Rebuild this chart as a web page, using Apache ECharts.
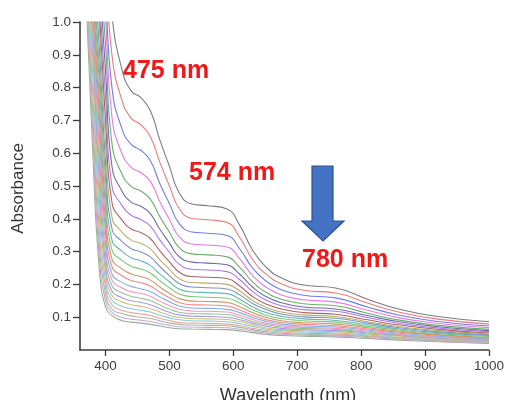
<!DOCTYPE html>
<html>
<head>
<meta charset="utf-8">
<script src="https://cdn.jsdelivr.net/npm/echarts@6/dist/echarts.min.js"></script>
<style>
  html, body { margin: 0; padding: 0; background: #fff; }
  #chart { width: 507px; height: 400px; }
</style>
</head>
<body>
<div id="chart"></div>
<script>
// Wavelength grid (nm) shared by every absorbance scan
const wavelengths = [370, 380, 390, 400, 410, 425, 440, 455, 470, 485, 500, 515, 535, 560, 590, 610, 630, 650, 675, 710, 760, 810, 860, 920, 1000];

// Successive absorbance scans, from first (highest) to last (lowest)
const scan01 = [2.6, 2.1, 1.65, 1.28, 1.02, .86, .79, .77, .73, .64, .56, .48, .445, .44, .43, .38, .305, .255, .22, .198, .189, .155, .124, .102, .086];
const scan02 = [2.4, 1.9, 1.5, 1.18, .90, .765, .707, .687, .651, .572, .500, .432, .401, .397, .389, .343, .276, .233, .202, .182, .174, .143, .115, .094, .079];
const scan03 = [2.2, 1.75, 1.38, 1.08, .80, .678, .627, .609, .578, .507, .446, .386, .360, .356, .349, .308, .250, .212, .184, .167, .159, .131, .106, .087, .073];
const scan04 = [2.0, 1.6, 1.27, 1.01, .71, .602, .557, .541, .514, .452, .398, .346, .323, .32, .314, .278, .227, .193, .168, .153, .146, .121, .098, .081, .068];
const scan05 = [1.9, 1.5, 1.2, .93, .63, .539, .499, .485, .460, .406, .359, .313, .293, .29, .284, .252, .208, .177, .155, .141, .135, .112, .091, .075, .063];
const scan06 = [1.8, 1.42, 1.14, .85, .56, .487, .451, .438, .416, .368, .326, .285, .268, .265, .260, .231, .192, .164, .144, .131, .125, .105, .086, .071, .059];
const scan07 = [1.72, 1.36, 1.09, .77, .50, .443, .411, .398, .378, .335, .298, .262, .246, .244, .239, .214, .178, .153, .135, .123, .118, .099, .081, .067, .056];
const scan08 = [1.65, 1.3, 1.04, .70, .45, .398, .369, .358, .340, .302, .269, .238, .224, .222, .218, .195, .163, .141, .125, .114, .109, .092, .076, .063, .052];
const scan09 = [1.6, 1.25, .99, .63, .405, .361, .335, .325, .309, .275, .246, .218, .206, .204, .200, .180, .151, .131, .116, .107, .102, .086, .071, .059, .049];
const scan10 = [1.55, 1.2, .93, .57, .37, .332, .309, .299, .284, .254, .227, .203, .192, .19, .186, .168, .142, .124, .110, .101, .097, .082, .068, .056, .046];
const scan11 = [1.5, 1.16, .87, .52, .335, .302, .281, .272, .258, .232, .208, .186, .177, .175, .172, .155, .132, .115, .103, .095, .090, .077, .064, .053, .044];
const scan12 = [1.46, 1.13, .82, .47, .305, .274, .255, .247, .235, .211, .190, .171, .163, .161, .158, .143, .123, .107, .096, .089, .085, .072, .061, .050, .041];
const scan13 = [1.43, 1.1, .77, .43, .278, .248, .232, .224, .213, .192, .173, .157, .149, .148, .145, .132, .114, .100, .089, .083, .079, .068, .057, .047, .038];
const scan14 = [1.4, 1.07, .72, .39, .254, .227, .212, .205, .195, .176, .159, .145, .138, .137, .134, .122, .106, .093, .084, .078, .074, .064, .054, .045, .036];
const scan15 = [1.36, 1.04, .67, .355, .232, .207, .194, .187, .178, .162, .147, .134, .128, .127, .124, .114, .099, .088, .079, .073, .070, .061, .051, .042, .034];
const scan16 = [1.33, 1.01, .62, .32, .213, .190, .178, .172, .164, .149, .135, .124, .119, .118, .116, .106, .093, .082, .074, .069, .066, .057, .048, .040, .033];
const scan17 = [1.3, .97, .57, .29, .196, .175, .164, .158, .150, .137, .125, .115, .111, .110, .108, .099, .087, .078, .070, .066, .063, .055, .046, .038, .031];
const scan18 = [1.26, .93, .52, .26, .18, .160, .150, .145, .138, .126, .115, .107, .103, .102, .100, .092, .082, .073, .066, .062, .059, .052, .044, .036, .029];
const scan19 = [1.23, .89, .47, .235, .166, .147, .138, .133, .126, .116, .106, .099, .096, .095, .093, .086, .077, .068, .062, .058, .056, .049, .042, .034, .028];
const scan20 = [1.2, .84, .42, .21, .152, .134, .126, .121, .116, .106, .098, .092, .089, .088, .086, .080, .072, .064, .059, .055, .052, .046, .039, .033, .026];
const scan21 = [1.16, .78, .37, .19, .138, .121, .114, .110, .105, .097, .090, .084, .082, .081, .079, .074, .066, .060, .055, .051, .049, .043, .037, .031, .025];
const scan22 = [1.13, .72, .33, .17, .125, .111, .104, .100, .096, .089, .082, .078, .076, .075, .074, .069, .062, .056, .051, .048, .046, .041, .035, .029, .023];
const scan23 = [1.1, .66, .29, .15, .115, .100, .094, .091, .087, .081, .075, .071, .070, .069, .068, .063, .058, .052, .048, .045, .043, .038, .033, .027, .022];
const scan24 = [1.05, .6, .25, .13, .105, .090, .085, .082, .078, .073, .068, .065, .064, .063, .062, .058, .053, .048, .044, .042, .040, .035, .030, .025, .020];

const scans = [scan01, scan02, scan03, scan04, scan05, scan06, scan07, scan08, scan09, scan10, scan11, scan12,
               scan13, scan14, scan15, scan16, scan17, scan18, scan19, scan20, scan21, scan22, scan23, scan24];

const traceColors = ['#7d7d7d', '#ec7a7a', '#6f7ee6', '#e67ae6', '#6caf6c', '#6e6ea6', '#a67ae6', '#ad6363',
                     '#bcae6a', '#7f8fc4', '#67b4b4', '#78cc78', '#cc9566', '#ec8a8a', '#86ade6', '#ec98c6',
                     '#97c697', '#a898e6', '#cac478', '#86ccdc', '#e6a696', '#a6b6a6', '#c6a6d6', '#96ae96'];

// Axis tick positions
const xTicks = [400, 500, 600, 700, 800, 900, 1000];
const yTicks = [0.1, 0.2, 0.3, 0.4, 0.5, 0.6, 0.7, 0.8, 0.9, 1.0];

// Peak annotations and axis titles
const peakLabels = ['475 nm', '574 nm', '780 nm'];
const xTitle = 'Wavelength (nm)';
const yTitle = 'Absorbance';

const chart = echarts.init(document.getElementById('chart'), null, { renderer: 'canvas' });

const axisColor = '#3c3c3c';
const labelFont = '"Liberation Sans", Arial, sans-serif';

const series = scans.map((vals, i) => ({
  type: 'line',
  data: wavelengths.map((w, k) => [w, vals[k]]),
  smooth: 0.5,
  showSymbol: false,
  clip: true,
  z: 100 - i,
  lineStyle: { width: 1.1, color: traceColors[i] },
  emphasis: { disabled: true },
  silent: true
}));

chart.setOption({
  animation: false,
  backgroundColor: '#ffffff',
  grid: { left: 80, right: 17, top: 22, bottom: 50, containLabel: false },
  xAxis: {
    type: 'value',
    min: 360,
    max: 1000,
    axisLine: { show: true, onZero: false, lineStyle: { color: axisColor, width: 1.6 } },
    axisTick: { show: true, inside: false, length: 6, lineStyle: { color: axisColor, width: 1.3 }, customValues: xTicks },
    axisLabel: { fontFamily: labelFont, fontSize: 13.5, color: '#404040', margin: 9, customValues: xTicks,
                 formatter: v => String(v) },
    splitLine: { show: false }
  },
  yAxis: {
    type: 'value',
    min: 0,
    max: 1.0,
    axisLine: { show: true, onZero: false, lineStyle: { color: axisColor, width: 1.6 } },
    axisTick: { show: true, inside: false, length: 7, lineStyle: { color: axisColor, width: 1.3 }, customValues: yTicks },
    axisLabel: { fontFamily: labelFont, fontSize: 13.5, color: '#404040', margin: 9, customValues: yTicks,
                 formatter: v => v.toFixed(1) },
    splitLine: { show: false }
  },
  series: series,
  graphic: [
    {
      type: 'text', x: 18.5, y: 188.5, rotation: Math.PI / 2, z: 200,
      style: { text: yTitle, font: '17px ' + labelFont, fill: '#333', align: 'center', verticalAlign: 'middle' }
    },
    {
      type: 'text', x: 288, y: 396, z: 200,
      style: { text: xTitle, font: '18px ' + labelFont, fill: '#333', align: 'center', verticalAlign: 'middle' }
    },
    {
      type: 'text', left: 123, top: 59, z: 200,
      style: { text: peakLabels[0], font: 'bold 25px ' + labelFont, fill: '#f01818' }
    },
    {
      type: 'text', left: 189, top: 161, z: 200,
      style: { text: peakLabels[1], font: 'bold 25px ' + labelFont, fill: '#f01818' }
    },
    {
      type: 'text', left: 302, top: 248, z: 200,
      style: { text: peakLabels[2], font: 'bold 25px ' + labelFont, fill: '#f01818' }
    },
    {
      type: 'polygon', z: 200,
      shape: { points: [[312, 166], [333, 166], [333, 221], [344, 221], [323, 241], [302, 221], [312, 221]] },
      style: { fill: '#4472c4', stroke: '#2f528f', lineWidth: 1.2 }
    }
  ]
});
</script>
</body>
</html>
